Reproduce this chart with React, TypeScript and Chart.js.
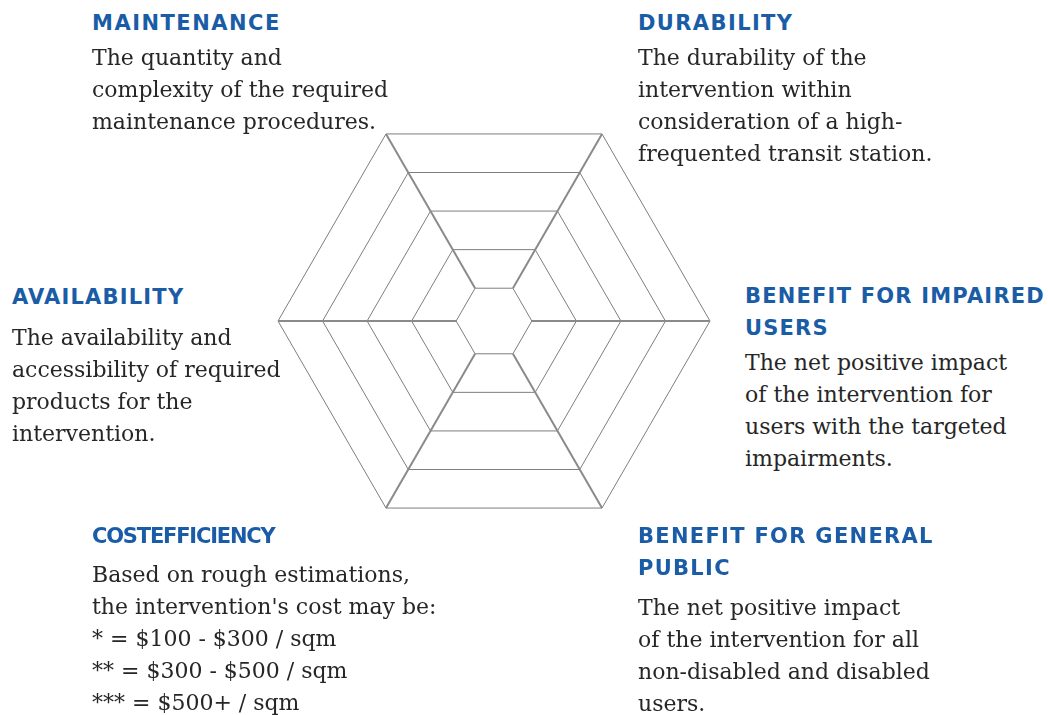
import React, { useEffect, useRef } from "react";
import { Chart, registerables } from "chart.js";

Chart.register(...registerables);

// ---- data ----
const categories = [
  "MAINTENANCE",
  "DURABILITY",
  "BENEFIT FOR IMPAIRED USERS",
  "BENEFIT FOR GENERAL PUBLIC",
  "COSTEFFICIENCY",
  "AVAILABILITY",
];

const headingLines: string[][] = [
  ["MAINTENANCE"],
  ["DURABILITY"],
  ["BENEFIT FOR IMPAIRED", "USERS"],
  ["BENEFIT FOR GENERAL", "PUBLIC"],
  ["COSTEFFICIENCY"],
  ["AVAILABILITY"],
];

const descriptions: string[][] = [
  ["The quantity and", "complexity of the required", "maintenance procedures."],
  ["The durability of the", "intervention within", "consideration of a high-", "frequented transit station."],
  ["The net positive impact", "of the intervention for", "users with the targeted", "impairments."],
  ["The net positive impact", "of the intervention for all", "non-disabled and disabled", "users."],
  [
    "Based on rough estimations,",
    "the intervention's cost may be:",
    "* = $100 - $300 / sqm",
    "** = $300 - $500 / sqm",
    "*** = $500+ / sqm",
  ],
  ["The availability and", "accessibility of required", "products for the", "intervention."],
];

const scaleMin = 0.15;
const scaleMax = 5;
const tickLevels = [1, 2, 3, 4, 5];

// ---- layout (page pixels) ----
const blockLayout = [
  { left: 92, headTop: 7, bodyTop: 42, spacing: 1.5 },
  { left: 638, headTop: 7, bodyTop: 42, spacing: 1.4 },
  { left: 745, headTop: 280, bodyTop: 347, spacing: 1.2 },
  { left: 638, headTop: 520, bodyTop: 592, spacing: 1.3 },
  { left: 92, headTop: 520, bodyTop: 559, spacing: -1.2 },
  { left: 12, headTop: 281, bodyTop: 322, spacing: 1.2 },
];

const BLUE = "#1a5ca6";
const TEXT = "#262626";

const spokePlugin = {
  id: "spokes",
  afterDraw(chart: any) {
    const r = chart.scales.r;
    const ctx = chart.ctx;
    ctx.save();
    ctx.strokeStyle = "#8a8a8a";
    ctx.lineWidth = 2;
    const n = chart.data.labels.length;
    for (let i = 0; i < n; i++) {
      const a = r.getPointPositionForValue(i, tickLevels[0]);
      const b = r.getPointPositionForValue(i, scaleMax);
      ctx.beginPath();
      ctx.moveTo(a.x, a.y);
      ctx.lineTo(b.x, b.y);
      ctx.stroke();
    }
    ctx.restore();
  },
};

function RadarChart() {
  const ref = useRef<HTMLCanvasElement>(null);
  useEffect(() => {
    if (!ref.current) return;
    const chart = new Chart(ref.current, {
      type: "radar",
      data: { labels: categories, datasets: [] },
      options: {
        animation: false,
        responsive: false,
        maintainAspectRatio: false,
        layout: { padding: 4 },
        plugins: { legend: { display: false }, tooltip: { enabled: false } },
        scales: {
          r: {
            min: scaleMin,
            max: scaleMax,
            startAngle: -30,
            afterBuildTicks: (scale: any) => {
              scale.ticks = [scaleMin, ...tickLevels].map((v) => ({ value: v }));
            },
            ticks: { display: false },
            grid: { circular: false, color: "#7e7e7e", lineWidth: 1 },
            angleLines: { display: false },
            pointLabels: { display: false },
          },
        },
      } as any,
      plugins: [spokePlugin],
    });
    return () => chart.destroy();
  }, []);
  return (
    <canvas
      ref={ref}
      width={440}
      height={440}
      style={{ position: "absolute", left: 274, top: 101, width: 440, height: 440 }}
    />
  );
}

export default function App() {
  return (
    <div
      style={{
        position: "fixed",
        left: 0,
        top: 0,
        width: 1048,
        height: 715,
        background: "#ffffff",
        overflow: "hidden",
      }}
    >
      <RadarChart />
      {categories.map((cat, i) => {
        const lay = blockLayout[i];
        return (
          <React.Fragment key={cat}>
            <div
              style={{
                position: "absolute",
                left: lay.left,
                top: lay.headTop,
                fontFamily: "'DejaVu Sans', sans-serif",
                fontWeight: 700,
                fontSize: 21,
                lineHeight: "32px",
                letterSpacing: lay.spacing,
                color: BLUE,
                whiteSpace: "nowrap",
              }}
            >
              {headingLines[i].map((l, k) => (
                <div key={k}>{l}</div>
              ))}
            </div>
            <div
              style={{
                position: "absolute",
                left: lay.left,
                top: lay.bodyTop,
                fontFamily: "'DejaVu Serif', serif",
                fontSize: 22,
                lineHeight: "32px",
                color: TEXT,
                whiteSpace: "nowrap",
              }}
            >
              {descriptions[i].map((l, k) => (
                <div key={k}>{l}</div>
              ))}
            </div>
          </React.Fragment>
        );
      })}
    </div>
  );
}
